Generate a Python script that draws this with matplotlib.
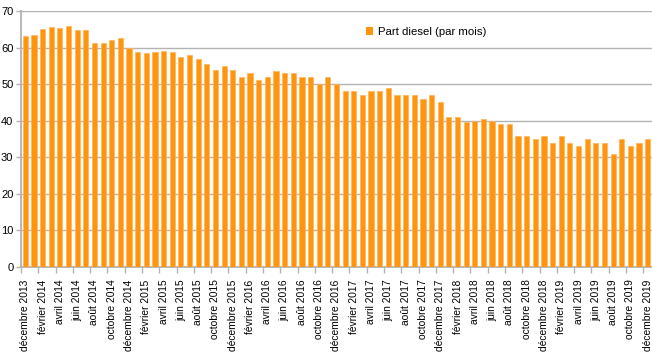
import matplotlib
matplotlib.use("Agg")
import matplotlib.pyplot as plt
from matplotlib.patches import Patch

# mois de décembre 2013 à décembre 2019
mois_noms = ["janvier", "février", "mars", "avril", "mai", "juin", "juillet",
             "août", "septembre", "octobre", "novembre", "décembre"]
mois = ["décembre 2013"] + ["%s %d" % (m, a) for a in range(2014, 2020) for m in mois_noms]

part_diesel = [63.2, 63.3, 65.0, 65.6, 65.3, 65.8, 64.8, 64.8, 61.2, 61.3, 62.0, 62.7,
               60.0, 58.9, 58.4, 58.7, 59.0, 58.7, 57.5, 58.1, 56.8, 55.5, 54.0, 55.0,
               54.0, 52.0, 53.0, 51.0, 52.0, 53.6, 53.0, 53.0, 52.0, 52.0, 50.0, 52.0,
               50.0, 48.0, 48.0, 47.0, 48.0, 48.0, 49.0, 47.0, 47.0, 47.0, 46.0, 47.0,
               45.0, 40.9, 40.9, 39.7, 40.0, 40.5, 39.8, 39.0, 39.0, 35.9, 35.9, 34.9,
               35.9, 34.0, 35.9, 34.0, 33.0, 34.9, 34.0, 34.0, 31.0, 34.9, 33.0, 34.0,
               35.0]

orange = "#ff950e"
gris = "#b3b3b3"

plt.rcParams['font.family'] = ['Liberation Sans', 'DejaVu Sans']

fig = plt.figure(figsize=(6.52, 3.64), dpi=100)
ax = fig.add_axes([0.0322, 0.2665, 0.9678, 0.7033])

x = list(range(len(mois)))
ax.bar(x, part_diesel, width=0.6, color=orange, edgecolor="#ffb45a", linewidth=0.5, zorder=3)

ax.set_xlim(-0.5, len(mois) - 0.5)
ax.set_ylim(0, 70)
ax.set_yticks(range(0, 71, 10))
ax.yaxis.grid(True, color=gris, linewidth=1, zorder=0)

# étiquettes un mois sur deux
ax.set_xticks(x[::2])
ax.set_xticklabels(mois[::2], rotation=90, fontsize=7.4)
ax.tick_params(axis="x", length=0, pad=9)
ax.set_xticks([i - 0.5 for i in x[::2]], minor=True)
ax.tick_params(axis="x", which="minor", length=4, color=gris, width=1)
ax.tick_params(axis="y", length=3.5, color=gris, width=1, pad=2, labelsize=8)

for s in ["top", "right"]:
    ax.spines[s].set_visible(False)
for s in ["left", "bottom"]:
    ax.spines[s].set_color(gris)
    ax.spines[s].set_linewidth(1.3)

ax.legend(handles=[Patch(facecolor=orange, label="Part diesel (par mois)")],
          loc="center left", bbox_to_anchor=(0.538, 0.918), frameon=False,
          fontsize=8.2, handlelength=0.6, handleheight=0.6, handletextpad=0.4,
          borderpad=0)

fig.savefig("out.png", dpi=100)
